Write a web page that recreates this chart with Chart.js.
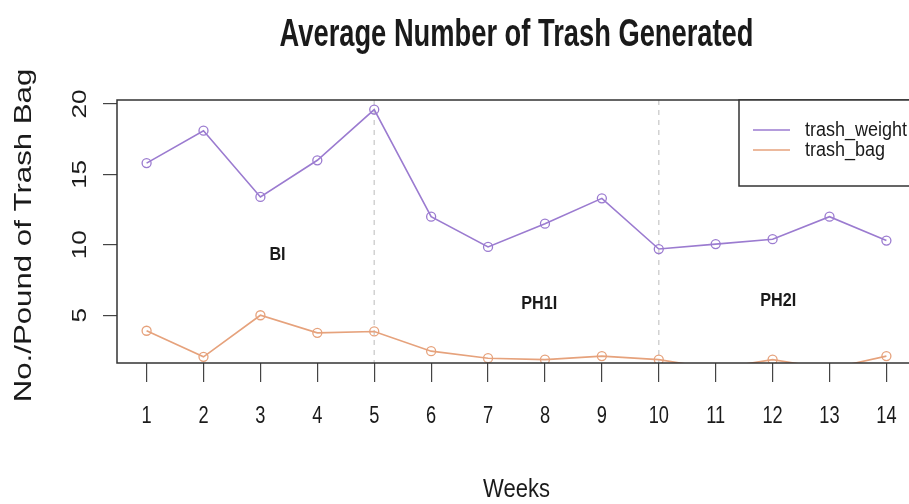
<!DOCTYPE html>
<html>
<head>
<meta charset="utf-8">
<title>Average Number of Trash Generated</title>
<script src="https://cdn.jsdelivr.net/npm/chart.js@4.4.1/dist/chart.umd.min.js"></script>
<style>
    html, body { margin: 0; padding: 0; background: #fff; overflow: hidden; }
    #wrap { width: 909px; height: 504px; overflow: hidden; }
    canvas { display: block; }
</style>
</head>
<body>
<div id="wrap"><canvas id="trashChart" width="925" height="504"></canvas></div>
<script>
// Data
const weeks = [1, 2, 3, 4, 5, 6, 7, 8, 9, 10, 11, 12, 13, 14];
const trashWeight = [15.8, 18.1, 13.4, 16.0, 19.6, 12.0, 9.85, 11.5, 13.3, 9.7, 10.05, 10.4, 12.0, 10.3];
const trashBag = [3.9, 2.05, 5.0, 3.75, 3.85, 2.45, 1.95, 1.85, 2.1, 1.85, 1.2, 1.85, 1.2, 2.1];
const yTicks = [5, 10, 15, 20];
const phaseBreaks = [5, 10];
const phaseNames = ['BI', 'PH1I', 'PH2I'];
const phaseX = [3.3, 7.9, 12.1];
const phaseY = [9.3, 5.8, 6.0];
const seriesNames = ['trash_weight', 'trash_bag'];
const seriesColors = ['#9b7bd0', '#e6a27c'];

const SANS = "'Liberation Sans', Arial, sans-serif";

// draw text squeezed/stretched along its direction (the source image is horizontally squashed)
function drawText(ctx, text, x, y, font, sx, angle, align, baseline) {
    ctx.save();
    ctx.font = font;
    ctx.fillStyle = '#1a1a1a';
    ctx.translate(x, y);
    if (angle) ctx.rotate(angle);
    ctx.scale(sx, 1);
    ctx.textAlign = align || 'center';
    ctx.textBaseline = baseline || 'middle';
    ctx.fillText(text, 0, 0);
    ctx.restore();
}

const rPlotDecor = {
    id: 'rPlotDecor',
    beforeDatasetsDraw(chart) {
        const ctx = chart.ctx, a = chart.chartArea, x = chart.scales.x;
        // phase separators
        ctx.save();
        ctx.strokeStyle = '#d2d2d2';
        ctx.lineWidth = 1.5;
        ctx.setLineDash([5, 5]);
        phaseBreaks.forEach(function(b) {
            const px = x.getPixelForValue(b);
            ctx.beginPath();
            ctx.moveTo(px, a.top);
            ctx.lineTo(px, a.bottom);
            ctx.stroke();
        });
        ctx.restore();
    },
    afterDraw(chart) {
        const ctx = chart.ctx, a = chart.chartArea;
        const x = chart.scales.x, y = chart.scales.y;

        // box
        ctx.save();
        ctx.strokeStyle = '#333';
        ctx.lineWidth = 1.5;
        ctx.strokeRect(a.left, a.top, a.right - a.left, a.bottom - a.top);
        ctx.restore();

        // phase labels
        phaseNames.forEach(function(t, i) {
            drawText(ctx, t, x.getPixelForValue(phaseX[i]), y.getPixelForValue(phaseY[i]),
                'bold 18px ' + SANS, 0.9);
        });

        // tick labels (x narrow, y rotated like R's las=0)
        weeks.forEach(function(w) {
            drawText(ctx, String(w), x.getPixelForValue(w), 423, '24px ' + SANS, 0.76, 0, 'center', 'alphabetic');
        });
        yTicks.forEach(function(v) {
            drawText(ctx, String(v), 80, y.getPixelForValue(v), '21px ' + SANS, 1.24, -Math.PI / 2);
        });

        // titles
        const cx = (a.left + a.right) / 2;
        drawText(ctx, 'Average Number of Trash Generated', cx, 46, 'bold 39px ' + SANS, 0.7, 0, 'center', 'alphabetic');
        drawText(ctx, 'Weeks', cx, 497, '25px ' + SANS, 0.88, 0, 'center', 'alphabetic');
        drawText(ctx, 'No./Pound of Trash Bag', 24, (a.top + a.bottom) / 2 + 4, '24px ' + SANS, 1.3, -Math.PI / 2);

        // legend
        const lx = 739, ly = a.top, lw = a.right - lx, lh = 86;
        ctx.save();
        ctx.fillStyle = '#fff';
        ctx.fillRect(lx, ly, lw, lh);
        ctx.strokeStyle = '#333';
        ctx.lineWidth = 1.5;
        ctx.strokeRect(lx, ly, lw, lh);
        seriesNames.forEach(function(n, i) {
            const ry = 130 + i * 20;
            ctx.strokeStyle = seriesColors[i];
            ctx.lineWidth = 1.5;
            ctx.beginPath();
            ctx.moveTo(753, ry);
            ctx.lineTo(790, ry);
            ctx.stroke();
            drawText(ctx, n, 805, ry, '20px ' + SANS, 0.9, 0, 'left', 'middle');
        });
        ctx.restore();
    }
};

function makeSeries(values, i) {
    return {
        label: seriesNames[i],
        data: weeks.map(function(w, k) { return { x: w, y: values[k] }; }),
        borderColor: seriesColors[i],
        borderWidth: 1.6,
        pointStyle: 'circle',
        pointRadius: 4.5,
        pointBorderWidth: 1.3,
        pointBorderColor: seriesColors[i],
        pointBackgroundColor: 'rgba(0,0,0,0)',
        tension: 0,
        clip: 0
    };
}

const ctx = document.getElementById('trashChart').getContext('2d');
new Chart(ctx, {
    type: 'line',
    data: {
        datasets: [makeSeries(trashWeight, 0), makeSeries(trashBag, 1)]
    },
    options: {
        responsive: false,
        animation: false,
        layout: { padding: { left: 0, top: 100, right: 9, bottom: 0 } },
        plugins: {
            legend: { display: false },
            tooltip: { enabled: false }
        },
        scales: {
            x: {
                type: 'linear',
                min: 0.48,
                max: 14.52,
                afterBuildTicks: function(axis) { axis.ticks = weeks.map(function(v) { return { value: v }; }); },
                afterFit: function(axis) { axis.height = 141; },
                border: { display: false },
                grid: { drawOnChartArea: false, drawTicks: true, tickLength: 19, color: '#444', lineWidth: 1.2 },
                ticks: { display: false }
            },
            y: {
                type: 'linear',
                min: 1.61,
                max: 20.28,
                afterBuildTicks: function(axis) { axis.ticks = yTicks.map(function(v) { return { value: v }; }); },
                afterFit: function(axis) { axis.width = 117; },
                border: { display: false },
                grid: { drawOnChartArea: false, drawTicks: true, tickLength: 14, color: '#444', lineWidth: 1.2 },
                ticks: { display: false }
            }
        }
    },
    plugins: [rPlotDecor]
});
</script>
</body>
</html>
